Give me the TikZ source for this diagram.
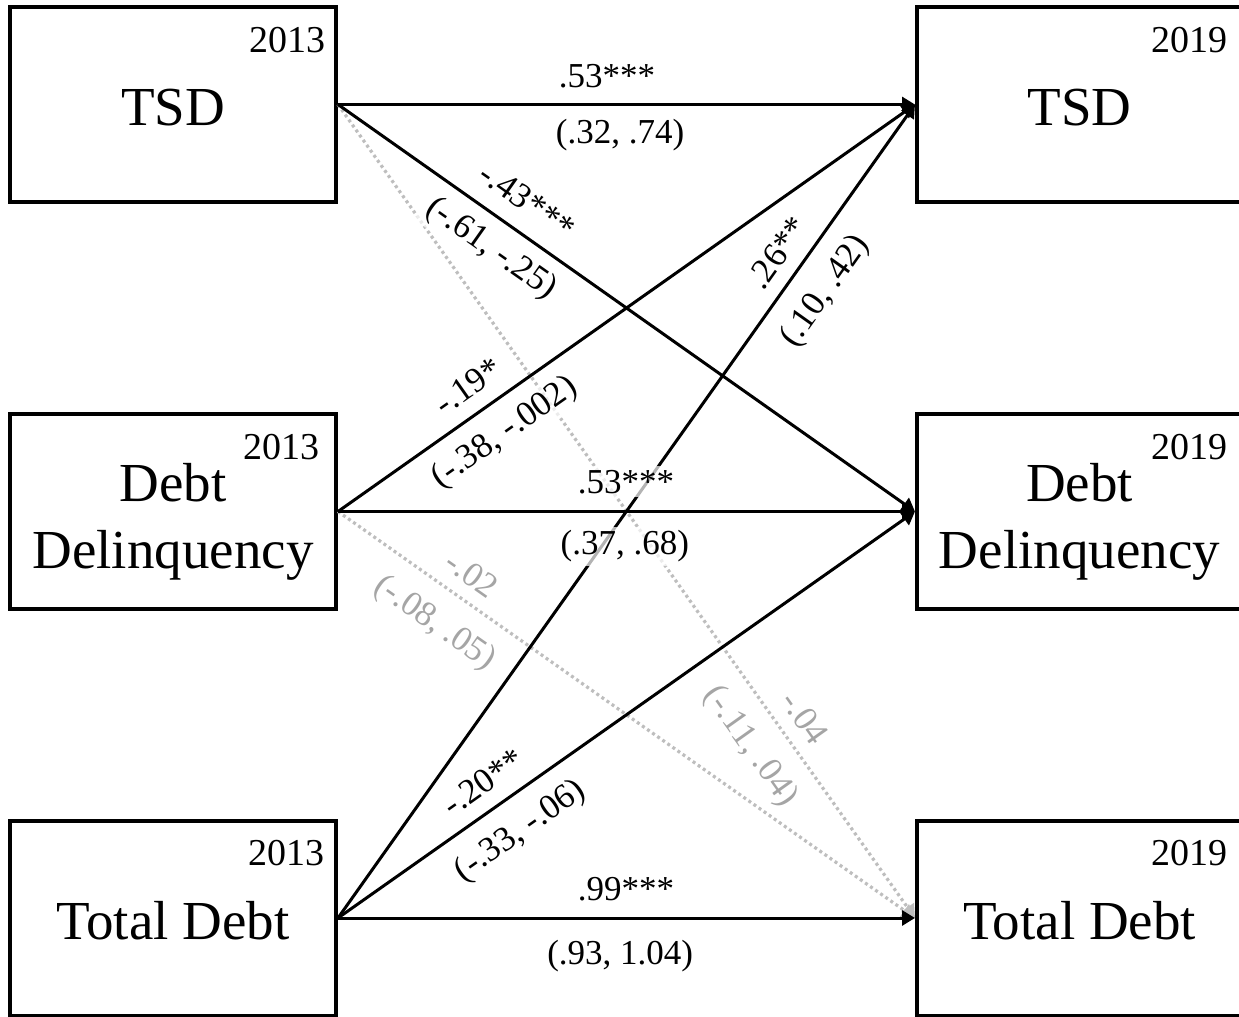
\documentclass[tikz,border=0pt]{standalone}
\usepackage{fontspec}
\setmainfont{Liberation Serif}
\usetikzlibrary{arrows.meta}
\definecolor{dotgray}{RGB}{190,190,190}
\definecolor{labgray}{RGB}{165,165,165}
\newcommand\namefont{\fontsize{27.5}{33.3}\selectfont}
\newcommand\yearfont{\fontsize{19}{22}\selectfont}
\newcommand\labfont{\fontsize{17.5}{20}\selectfont}
\begin{document}
\begin{tikzpicture}[x=0.5pt,y=-0.5pt,
 box/.style={draw, line width=2pt, minimum width=163pt, minimum height=97.5pt, inner sep=0pt},
 vname/.style={font=\namefont, align=center, inner sep=0pt},
 year/.style={font=\yearfont, inner sep=0pt, anchor=north east, text height=12.8pt, text depth=0pt},
 conn/.style={line width=1.5pt, -{Triangle[length=6.5pt,width=7.5pt]}},
 dconn/.style={line width=1.6pt, dotgray, dash pattern=on 1.5pt off 1.6pt, -{Triangle[length=6.5pt,width=7.5pt]}},
 lab/.style={font=\labfont, sloped, inner sep=2pt, fill=white, fill opacity=0.7, text opacity=1},
 labA/.style={lab, anchor=south, text height=11.8pt, text depth=0pt, outer sep=#1},
 labB/.style={lab, anchor=north, text height=12pt, text depth=3.8pt, outer sep=#1},
 glab/.style={text=labgray}]
\useasboundingbox (0,0) rectangle (1239,1017);

% boxes
\node[box] (L1) at (173,104.5) {};
\node[box] (L2) at (173,511.5) {};
\node[box] (L3) at (173,918) {};
\node[box] (R1) at (1080,104.5) {};
\node[box] (R2) at (1080,511.5) {};
\node[box] (R3) at (1080,918) {};

% names
\node[vname] (nL1) at (173,107.5) {TSD};
\node[vname] (nL2) at (173,522) {Debt\\Delinquency};
\node[vname] (nL3) at (173,921) {Total Debt};
\node[vname] (nR1) at (1079.5,107.5) {TSD};
\node[vname] (nR2) at (1079.5,522) {Debt\\Delinquency};
\node[vname] (nR3) at (1079.5,921) {Total Debt};

% years
\node[year] (yL1) at ([xshift=-6pt,yshift=-11pt]L1.north east) {2013};
\node[year] (yL2) at ([xshift=-9pt,yshift=-10.75pt]L2.north east) {2013};
\node[year] (yL3) at ([xshift=-6.5pt,yshift=-10.5pt]L3.north east) {2013};
\node[year] (yR1) at ([xshift=-8.5pt,yshift=-11pt]R1.north east) {2019};
\node[year] (yR2) at ([xshift=-8.5pt,yshift=-10.75pt]R2.north east) {2019};
\node[year] (yR3) at ([xshift=-8.5pt,yshift=-10.5pt]R3.north east) {2019};

% connectors
\draw[dconn] (L1.east) -- (R3.west);
\draw[dconn] (L2.east) -- (R3.west);
\draw[conn] (L1.east) -- (R1.west);
\draw[conn] (L1.east) -- (R2.west);
\draw[conn] (L2.east) -- (R1.west);
\draw[conn] (L2.east) -- (R2.west);
\draw[conn] (L3.east) -- (R1.west);
\draw[conn] (L3.east) -- (R2.west);
\draw[conn] (L3.east) -- (R3.west);

% labels
\path (L1.east) -- (R1.west)
  node[labA=6.6pt, pos=0.466] (a11) {.53***}
  node[labB=5.6pt, pos=0.489] (b11) {(.32, .74)};
\path (L1.east) -- (R2.west)
  node[labA=7.6pt, pos=0.298] (a12) {-.43***}
  node[labB=5.2pt, pos=0.295] (b12) {(-.61, -.25)};
\path (L1.east) -- (R3.west)
  node[labA=5.4pt, pos=0.772, glab] (a13) {-.04}
  node[labB=7.9pt, pos=0.764, glab] (b13) {(-.11, .04)};
\path (L2.east) -- (R1.west)
  node[labA=6.2pt, pos=0.253] (a21) {-.19*}
  node[labB=6.25pt, pos=0.257] (b21) {(-.38, -.002)};
\path (L2.east) -- (R2.west)
  node[labA=7.1pt, pos=0.499] (a22) {.53***}
  node[labB=7.6pt, pos=0.497] (b22) {(.37, .68)};
\path (L2.east) -- (R3.west)
  node[labA=5.35pt, pos=0.206, glab] (a23) {-.02}
  node[labB=8.25pt, pos=0.203, glab] (b23) {(-.08, .05)};
\path (L3.east) -- (R1.west)
  node[labA=5.6pt, pos=0.799] (a31) {.26**}
  node[labB=7.85pt, pos=0.795] (b31) {(.10, .42)};
\path (L3.east) -- (R2.west)
  node[labA=6.05pt, pos=0.279] (a32) {-.20**}
  node[labB=7.55pt, pos=0.282] (b32) {(-.33, -.06)};
\path (L3.east) -- (R3.west)
  node[labA=6.6pt, pos=0.499] (a33) {.99***}
  node[labB=9.1pt, pos=0.489] (b33) {(.93, 1.04)};
\end{tikzpicture}
\end{document}
